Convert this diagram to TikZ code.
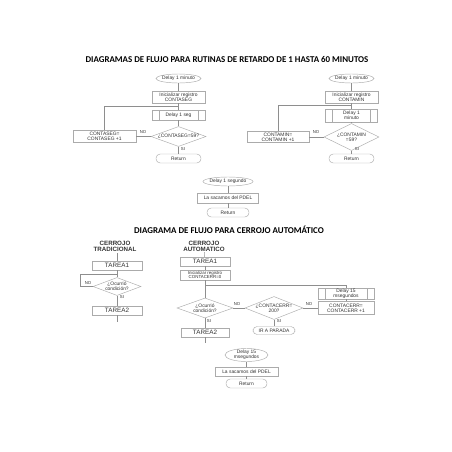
\documentclass[tikz,border=0pt]{standalone}
\usepackage{fontspec}
\setmainfont{Liberation Sans}
\newfontfamily\headfont{Carlito}
\usepackage{tikz}
\usetikzlibrary{shapes.geometric}
\definecolor{Ink}{HTML}{333333}
\definecolor{Edge}{HTML}{ABABAB}
\definecolor{Wire}{HTML}{8E8E8E}
\newcommand{\flowsize}{\fontsize{4.9}{5.3}\selectfont}

\begin{document}
\begin{tikzpicture}[x=1pt,y=-1pt,
  proc/.style={draw=Edge,line width=0.45pt,fill=white,text=Ink,font=\flowsize,align=center,inner sep=0pt},
  predef/.style={proc,path picture={\draw[Edge,line width=0.45pt]
      ([xshift=7pt]path picture bounding box.north west) -- ([xshift=7pt]path picture bounding box.south west)
      ([xshift=-7pt]path picture bounding box.north east) -- ([xshift=-7pt]path picture bounding box.south east);}},
  term/.style={proc,rounded corners=4.2pt},
  oval/.style={proc,ellipse,inner xsep=-3pt,inner ysep=-0.5pt},
  test/.style={proc,diamond,aspect=2.6,inner sep=-1.5pt},
  wire/.style={draw=Wire,line width=0.45pt},
  tag/.style={text=Ink,font=\fontsize{4.3}{4.5}\selectfont,inner sep=0pt},
  title/.style={font=\headfont\bfseries\fontsize{8.9}{9.5}\selectfont},
  head/.style={font=\bfseries\fontsize{6.2}{6.6}\selectfont,align=center,text=Ink,inner sep=0pt},
  task/.style={proc,font=\fontsize{6.3}{6.8}\selectfont}]
  \useasboundingbox[fill=white] (0,0) rectangle (452,452);

  \node[title] (titleA) at (227,59) {DIAGRAMAS DE FLUJO PARA RUTINAS DE RETARDO DE 1 HASTA 60 MINUTOS};

  \node[oval,minimum width=45pt,minimum height=9pt] (startA) at (178.5,78.5) {Delay 1 minuto};
  \node[proc,minimum width=53pt,minimum height=12pt] (initA) at (178.5,97) {Inicializar registro\\CONTASEG};
  \node[predef,minimum width=53pt,minimum height=10pt] (waitA) at (178.5,115) {Delay 1 seg};
  \node[test,minimum width=55pt,minimum height=20pt] (testA) at (178.5,136.5) {¿CONTASEG=59?};
  \node[proc,minimum width=63pt,minimum height=12pt] (incA) at (104.5,136.5) {CONTASEG=\\CONTASEG +1};
  \node[term,minimum width=45pt,minimum height=9pt] (endA) at (178.5,158.5) {Return};
  \coordinate (joinA) at (178.5,106);
  \draw[wire] (startA) -- (initA);
  \draw[wire] (initA) -- (waitA);
  \draw[wire] (waitA) -- (testA);
  \draw[wire] (testA) -- (endA);
  \draw[wire] (testA) -- (incA);
  \draw[wire] (incA) |- (joinA);
  \node[tag] (noA) at (143,132.5) {NO};
  \node[tag] (siA) at (183,149.5) {SI};

  \node[oval,minimum width=45pt,minimum height=9pt] (startB) at (351.5,78.5) {Delay 1 minuto};
  \node[proc,minimum width=53pt,minimum height=12pt] (initB) at (351.5,97) {Inicializar registro\\CONTAMIN};
  \node[predef,minimum width=52pt,minimum height=13pt] (waitB) at (351.5,115.5) {Delay 1\\minuto};
  \node[test,minimum width=55pt,minimum height=27pt] (testB) at (351.5,137) {¿CONTAMIN\\=59?};
  \node[proc,minimum width=62pt,minimum height=11pt] (incB) at (278,137) {CONTAMIN=\\CONTAMIN +1};
  \node[term,minimum width=45pt,minimum height=9pt] (endB) at (351.5,158.5) {Return};
  \coordinate (joinB) at (351.5,105);
  \draw[wire] (startB) -- (initB);
  \draw[wire] (initB) -- (waitB);
  \draw[wire] (waitB) -- (testB);
  \draw[wire] (testB) -- (endB);
  \draw[wire] (testB) -- (incB);
  \draw[wire] (incB) |- (joinB);
  \node[tag] (noB) at (316,132.5) {NO};
  \node[tag] (siB) at (357,149.5) {SI};

  \node[oval,minimum width=50pt,minimum height=9pt] (waitC) at (228,181.5) {Delay 1 segundo};
  \node[proc,minimum width=61pt,minimum height=10pt] (pdelC) at (228,198) {La sacamos del PDEL};
  \node[term,minimum width=42pt,minimum height=9pt] (endC) at (228,212.5) {Return};
  \draw[wire] (waitC) -- (pdelC);
  \draw[wire] (pdelC) -- (endC);

  \node[title] (titleB) at (229,230) {DIAGRAMA DE FLUJO PARA CERROJO AUTOMÁTICO};

  \node[head] (headT) at (115,246.5) {CERROJO\\TRADICIONAL};
  \node[task,minimum width=50pt,minimum height=9pt] (taskT1) at (117,265.5) {TAREA1};
  \node[test,minimum width=48pt,minimum height=18pt] (testT) at (117,286.5) {¿Ocurrió\\condición?};
  \node[task,minimum width=50pt,minimum height=9pt] (taskT2) at (117,310.5) {TAREA2};
  \coordinate (joinT) at (117,274);
  \coordinate (cornerT) at (80,286.5);
  \coordinate (tailT) at (117,322);
  \draw[wire] (117,253) -- (taskT1);
  \draw[wire] (taskT1) -- (testT);
  \draw[wire] (testT) -- (cornerT) |- (joinT);
  \draw[wire] (testT) -- (taskT2);
  \draw[wire] (taskT2) -- (tailT);
  \node[tag] (noT) at (88,283.5) {NO};
  \node[tag] (siT) at (122,297.5) {SI};

  \node[head] (headD) at (204,246.5) {CERROJO\\AUTOMATICO};
  \node[task,minimum width=50pt,minimum height=9pt] (taskD1) at (205,261.5) {TAREA1};
  \node[proc,minimum width=50pt,minimum height=10pt,font=\fontsize{4.4}{4.8}\selectfont] (initD) at (205,275) {Inicializar registro\\CONTACERR=0};
  \node[test,minimum width=56pt,minimum height=20pt] (testD) at (205,308) {¿Ocurrió\\condición?};
  \node[test,minimum width=58pt,minimum height=23pt] (testE) at (274,308) {¿CONTACERR=\\200?};
  \node[proc,minimum width=56pt,minimum height=13pt] (incD) at (346,308) {CONTACERR=\\CONTACERR +1};
  \node[predef,minimum width=56pt,minimum height=11pt] (waitD) at (346,293.5) {Delay 15\\msegundos};
  \node[task,minimum width=48pt,minimum height=9pt] (taskD2) at (205,332.5) {TAREA2};
  \node[term,minimum width=42pt,minimum height=8pt] (stopE) at (274,330.5) {IR A PARADA};
  \coordinate (joinD) at (205,285);
  \coordinate (tailD) at (205,343);
  \draw[wire] (headD) -- (taskD1);
  \draw[wire] (taskD1) -- (initD);
  \draw[wire] (initD) -- (testD);
  \draw[wire] (testD) -- (testE);
  \draw[wire] (testE) -- (incD);
  \draw[wire] (incD) -- (waitD);
  \draw[wire] (waitD) |- (joinD);
  \draw[wire] (testD) -- (taskD2);
  \draw[wire] (taskD2) -- (tailD);
  \draw[wire] (testE) -- (stopE);
  \node[tag] (noD) at (237,304.5) {NO};
  \node[tag] (noE) at (309,304.5) {NO};
  \node[tag] (siD) at (209,321) {SI};
  \node[tag] (siE) at (279,321) {SI};

  \node[oval,minimum width=43pt,minimum height=13pt] (waitF) at (246.5,355) {Delay 15\\msegundos};
  \node[proc,minimum width=63pt,minimum height=9pt] (pdelF) at (246.5,371.5) {La sacamos del PDEL};
  \node[term,minimum width=41pt,minimum height=9pt] (endF) at (246.5,383.5) {Return};
  \draw[wire] (waitF) -- (pdelF);
  \draw[wire] (pdelF) -- (endF);
\end{tikzpicture}
\end{document}
